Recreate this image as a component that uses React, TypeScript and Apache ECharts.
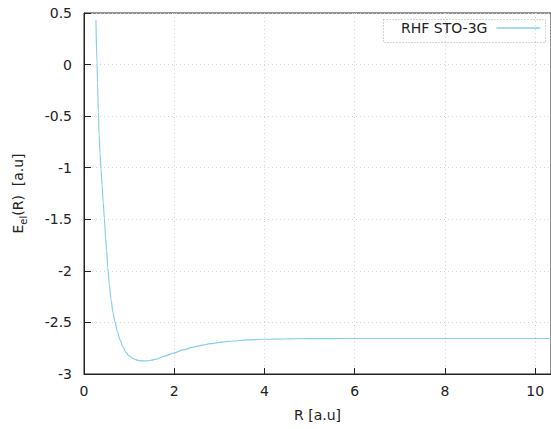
import React, { useEffect, useRef } from "react";
import * as echarts from "echarts";

// Bond distance R [a.u] and energy E_el(R) [a.u]
const R_VALUES = [
  0.265, 0.289, 0.3, 0.318, 0.335, 0.355, 0.378, 0.4, 0.425, 0.451, 0.48, 0.5,
  0.527, 0.56, 0.6, 0.64, 0.69, 0.74, 0.8, 0.86, 0.93, 1.0, 1.1, 1.2, 1.3, 1.4,
  1.5, 1.6, 1.8, 2.0, 2.2, 2.4, 2.6, 2.8, 3.0, 3.3, 3.6, 4.0, 4.5, 5.0, 6.0,
  7.0, 8.0, 9.0, 10.0, 10.4,
];
const E_VALUES = [
  0.43, 0.0, -0.18, -0.46, -0.68, -0.86, -1.02, -1.17, -1.33, -1.49, -1.68,
  -1.8, -1.97, -2.13, -2.28, -2.4, -2.5, -2.59, -2.67, -2.735, -2.79, -2.825,
  -2.853, -2.868, -2.873, -2.873, -2.866, -2.856, -2.825, -2.795, -2.767,
  -2.742, -2.722, -2.706, -2.694, -2.68, -2.67, -2.663, -2.659, -2.657, -2.656,
  -2.656, -2.656, -2.656, -2.656, -2.656,
];
const SERIES_NAME = "RHF STO-3G";
const X_TITLE = "R [a.u]";

const FONT = "DejaVu Sans";
const TEXT = "#222";
const LINE = "#87ceeb";

export default function App() {
  const ref = useRef<HTMLDivElement>(null);
  useEffect(() => {
    if (!ref.current) return;
    const chart = echarts.init(ref.current, undefined, { renderer: "svg" });
    const data = R_VALUES.map((r, i) => [r, E_VALUES[i]]);
    chart.setOption({
      animation: false,
      backgroundColor: "#fff",
      textStyle: { fontFamily: FONT, color: TEXT },
      grid: {
        left: 84,
        top: 13,
        right: -2,
        bottom: 55,
        show: true,
        borderColor: "#222",
        borderWidth: 1,
        backgroundColor: "transparent",
      },
      legend: {
        data: [{ name: SERIES_NAME, icon: "rect" }],
        left: 401,
        top: 21,
        padding: 0,
        align: "right",
        itemWidth: 44,
        itemHeight: 1.5,
        itemStyle: { color: LINE },
        textStyle: { fontSize: 14, color: TEXT, fontFamily: FONT, padding: [0, 4, 0, 0] },
      },
      xAxis: {
        type: "value",
        min: 0,
        max: 10.35,
        interval: 2,
        name: X_TITLE,
        nameLocation: "middle",
        nameGap: 34,
        nameTextStyle: { fontSize: 14, color: TEXT, fontFamily: FONT },
        axisLine: { show: true, onZero: false, lineStyle: { color: "#222", width: 1 } },
        axisTick: { show: true, inside: true, length: 6, lineStyle: { color: "#222" } },
        axisLabel: {
          fontSize: 14,
          color: TEXT,
          fontFamily: FONT,
          margin: 10,
          showMaxLabel: false,
          formatter: (v: number) => String(v),
        },
        splitLine: { show: true, lineStyle: { color: "#d2d2d2", type: [1, 3], width: 1 } },
      },
      yAxis: {
        type: "value",
        min: -3,
        max: 0.5,
        interval: 0.5,
        name: "{n|E}{s|el}{n|(R)  [a.u]}",
        nameLocation: "middle",
        nameGap: 56,
        nameRotate: 90,
        nameTextStyle: {
          fontSize: 14,
          color: TEXT,
          fontFamily: FONT,
          rich: {
            n: { fontSize: 14, color: TEXT, fontFamily: FONT, lineHeight: 20 },
            s: { fontSize: 10, color: TEXT, fontFamily: FONT, verticalAlign: "bottom", lineHeight: 20 },
          },
        },
        axisLine: { show: true, onZero: false, lineStyle: { color: "#222", width: 1 } },
        axisTick: { show: true, inside: true, length: 7, lineStyle: { color: "#222" } },
        axisLabel: {
          fontSize: 14,
          color: TEXT,
          fontFamily: FONT,
          margin: 12,
          formatter: (v: number) => String(v),
        },
        splitLine: { show: true, lineStyle: { color: "#d2d2d2", type: [1, 3], width: 1 } },
      },
      graphic: [
        {
          type: "rect",
          shape: { x: 383.5, y: 19.5, width: 162, height: 23 },
          style: { fill: "none", stroke: "#aaa", lineWidth: 1, lineDash: [1, 2] },
          silent: true,
        },
      ],
      series: [
        {
          name: SERIES_NAME,
          type: "line",
          data,
          showSymbol: false,
          symbol: "none",
          smooth: 0.3,
          smoothMonotone: "x",
          lineStyle: { color: LINE, width: 1.2 },
          itemStyle: { color: LINE },
        },
      ],
    });
    return () => chart.dispose();
  }, []);
  return (
    <div
      ref={ref}
      style={{ position: "fixed", left: 0, top: 0, width: 551, height: 429, background: "#fff" }}
    />
  );
}
